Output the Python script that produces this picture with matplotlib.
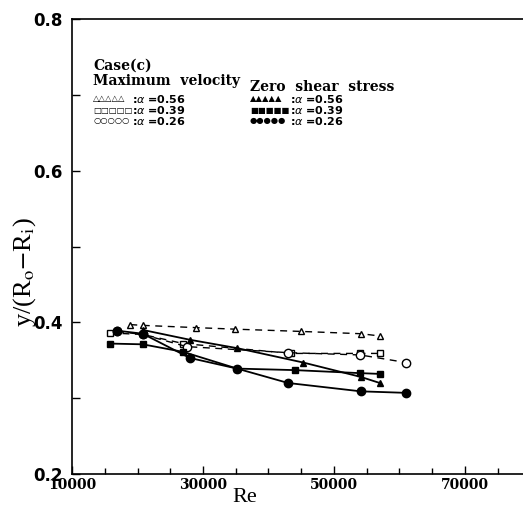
import matplotlib
matplotlib.use('Agg')
import matplotlib.pyplot as plt
from matplotlib.ticker import MultipleLocator, FixedLocator, FormatStrFormatter

# Re values and y/(Ro-Ri)
# Maximum velocity (open symbols, dashed lines)
re_max_056 = [18900, 20800, 29000, 34900, 45000, 54100, 57000]
y_max_056 = [0.397, 0.396, 0.393, 0.391, 0.388, 0.385, 0.382]
re_max_039 = [15800, 20800, 27000, 43500, 54000, 57000]
y_max_039 = [0.386, 0.384, 0.372, 0.359, 0.359, 0.359]
re_max_026 = [16900, 20800, 27500, 43000, 54000, 61000]
y_max_026 = [0.388, 0.384, 0.368, 0.360, 0.357, 0.347]

# Zero shear stress (filled symbols, solid lines)
re_zs_056 = [20800, 28000, 35200, 45300, 54100, 57000]
y_zs_056 = [0.390, 0.377, 0.366, 0.347, 0.328, 0.320]
re_zs_039 = [15800, 20800, 27000, 35200, 44000, 54000, 57000]
y_zs_039 = [0.372, 0.371, 0.361, 0.339, 0.337, 0.333, 0.332]
re_zs_026 = [16900, 20800, 28000, 35200, 43000, 54100, 61000]
y_zs_026 = [0.389, 0.385, 0.353, 0.339, 0.320, 0.309, 0.307]

x_ticks = [10000, 30000, 50000, 70000]
y_ticks = [0.2, 0.4, 0.6, 0.8]

fig = plt.figure(figsize=(5.23, 5.12), dpi=100)
W, H = 523, 512
ax = fig.add_axes([72 / W, 38 / H, 458.5 / W, 455 / H])

ms = 5
dash_kw = dict(color='black', lw=1.0, dashes=(5, 4), mfc='white', mec='black', mew=1.0)
ax.plot(re_max_056, y_max_056, marker='^', ms=ms, **dash_kw)
ax.plot(re_max_039, y_max_039, marker='s', ms=ms, **dash_kw)
ax.plot(re_max_026, y_max_026, marker='o', ms=ms + 1, **dash_kw)
solid_kw = dict(color='black', lw=1.3, mfc='black', mec='black')
ax.plot(re_zs_056, y_zs_056, '-', marker='^', ms=ms, **solid_kw)
ax.plot(re_zs_039, y_zs_039, '-', marker='s', ms=ms, **solid_kw)
ax.plot(re_zs_026, y_zs_026, '-', marker='o', ms=ms + 1, **solid_kw)

ax.set_xlim(10000, 80000)
ax.set_ylim(0.2, 0.8)
ax.xaxis.set_major_locator(FixedLocator(x_ticks))
ax.xaxis.set_minor_locator(MultipleLocator(5000))
ax.yaxis.set_major_locator(FixedLocator(y_ticks))
ax.yaxis.set_minor_locator(MultipleLocator(0.1))
ax.yaxis.set_major_formatter(FormatStrFormatter('%.1f'))
ax.tick_params(which='both', direction='in', top=False, right=False)
ax.tick_params(axis='x', which='major', length=6, width=1, pad=3)
ax.tick_params(axis='x', which='minor', length=4, width=1)
ax.tick_params(axis='y', which='major', length=6, width=1, pad=7)
ax.tick_params(axis='y', which='minor', length=6, width=1)
for lab in ax.get_xticklabels():
    lab.set_fontfamily('DejaVu Serif')
    lab.set_fontweight('bold')
    lab.set_fontsize(10)
for lab in ax.get_yticklabels():
    lab.set_fontfamily('DejaVu Sans')
    lab.set_fontweight('bold')
    lab.set_fontsize(12)
for sp in ax.spines.values():
    sp.set_linewidth(1.2)

fig.text(245 / W, 1 - 497 / H, 'Re', ha='center', va='center',
         family='Liberation Serif', fontsize=16)
fig.text(25 / W, 1 - 272 / H, r'y/(R$_{\rm o}$$-$R$_{\rm i}$)', ha='center', va='center',
         rotation=90, family='Liberation Serif', fontsize=19,
         math_fontfamily='stix')

# legend drawn as text
hdr = dict(family='DejaVu Serif', fontweight='bold', fontsize=10, va='center', ha='left')
row = dict(family='DejaVu Sans', fontweight='bold', fontsize=8, va='center', ha='left')
sym = dict(family='DejaVu Sans', fontsize=6, va='center', ha='left')

def ftext(x, y, s, **kw):
    fig.text(x / W, 1 - y / H, s, **kw)

ftext(93, 66, 'Case(c)', **hdr)
ftext(93, 81, 'Maximum  velocity', **hdr)
ftext(250, 87, 'Zero  shear  stress', **hdr)
rows_y = [99, 110, 121]
alphas = ['0.56', '0.39', '0.26']
open_syms = ['\u25b3' * 5, '\u25a1' * 5, '\u25cb' * 5]
fill_syms = ['\u25b2' * 5, '\u25a0' * 5, '\u25cf' * 5]
for yy, a, os_, fs_ in zip(rows_y, alphas, open_syms, fill_syms):
    ftext(93, yy, os_, **sym)
    ftext(132, yy, r':$\alpha$ =' + a, **row)
    ftext(250, yy, fs_, **sym)
    ftext(290, yy, r':$\alpha$ =' + a, **row)

fig.savefig('out.png', dpi=100)
